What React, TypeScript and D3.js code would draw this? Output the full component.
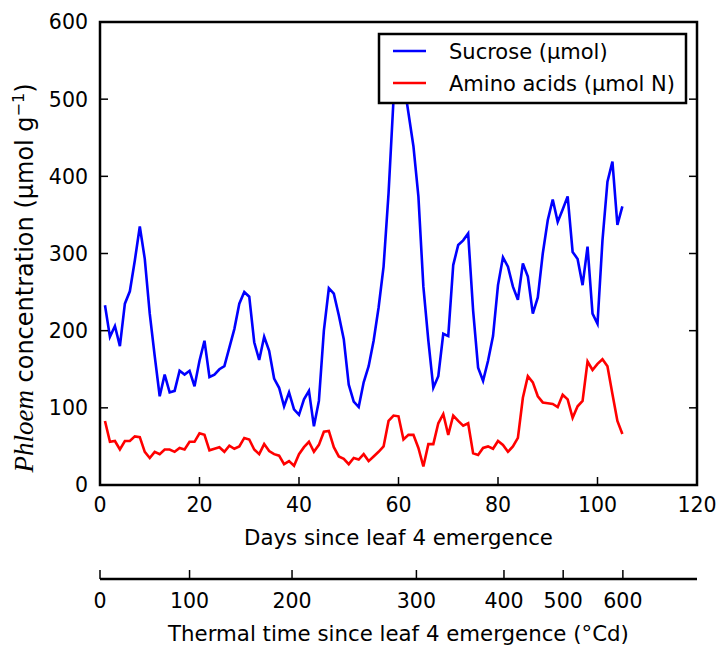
import React, { useRef, useEffect } from 'react'
import * as d3 from 'd3'

// days since leaf 4 emergence
const days = [
  1, 2, 3, 4, 5, 6, 7, 8, 9, 10, 11, 12, 13, 14, 15, 16, 17, 18, 19, 20,
  21, 22, 23, 24, 25, 26, 27, 28, 29, 30, 31, 32, 33, 34, 35, 36, 37, 38, 39, 40,
  41, 42, 43, 44, 45, 46, 47, 48, 49, 50, 51, 52, 53, 54, 55, 56, 57, 58, 59, 60,
  61, 62, 63, 64, 65, 66, 67, 68, 69, 70, 71, 72, 73, 74, 75, 76, 77, 78, 79, 80,
  81, 82, 83, 84, 85, 86, 87, 88, 89, 90, 91, 92, 93, 94, 95, 96, 97, 98, 99, 100,
  101, 102, 103, 104, 105,
]

const sucrose = [
  233, 192, 206, 180, 235, 251, 291, 335, 293, 222, 167, 115, 143, 120, 122, 148, 143, 148, 128, 161,
  187, 140, 143, 150, 154, 178, 202, 235, 250, 244, 185, 162, 192, 174, 138, 126, 102, 120, 98, 91,
  111, 122, 76, 109, 200, 255, 248, 220, 189, 130, 108, 101, 133, 154, 187, 230, 283, 378, 500, 530,
  525, 482, 439, 374, 257, 187, 126, 141, 196, 193, 285, 311, 317, 326, 226, 152, 135, 161, 193, 259,
  295, 283, 257, 240, 287, 270, 222, 243, 300, 343, 370, 341, 357, 374, 302, 293, 259, 309, 222, 209,
  317, 393, 419, 337, 361,
]

const aminoAcids = [
  83, 56, 57, 46, 57, 57, 63, 62, 43, 35, 43, 40, 46, 46, 43, 48, 46, 56, 56, 67,
  65, 45, 47, 49, 43, 51, 47, 50, 61, 59, 46, 40, 53, 44, 40, 38, 27, 31, 25, 40,
  49, 56, 43, 52, 69, 70, 49, 37, 34, 27, 35, 33, 40, 31, 37, 43, 50, 83, 90, 89,
  59, 65, 65, 48, 24, 53, 53, 80, 92, 65, 90, 83, 77, 80, 41, 39, 48, 50, 47, 57,
  52, 43, 50, 61, 113, 141, 133, 115, 107, 106, 105, 101, 117, 111, 87, 102, 109, 160, 149, 157,
  163, 154, 118, 83, 66,
]

const dayTicks = [0, 20, 40, 60, 80, 100, 120]
const concTicks = [0, 100, 200, 300, 400, 500, 600]

// thermal time axis: labels and the day each one sits at
const thermalLabels = [0, 100, 200, 300, 400, 500, 600]
const thermalAtDay = [0, 18, 38.6, 63.6, 81.2, 93.1, 105.1]

const seriesNames = ['Sucrose (µmol)', 'Amino acids (µmol N)']
const seriesColors = ['#0000ff', '#ff0000']

const FONT = '"DejaVu Sans", sans-serif'

const Chart = () => {
  const svgRef = useRef<SVGSVGElement>(null)

  useEffect(() => {
    const svg = d3.select(svgRef.current)
    svg.selectAll('*').remove()

    const width = 718
    const height = 648
    const left = 100
    const right = 697
    const top = 22
    const bottom = 485
    const tickLen = 8

    svg.attr('width', width).attr('height', height)

    const x = d3.scaleLinear().domain([0, 120]).range([left, right])
    const y = d3.scaleLinear().domain([0, 600]).range([bottom, top])

    // data lines
    const line = d3
      .line<number>()
      .x((d, i) => x(days[i]))
      .y(d => y(d))

    ;[sucrose, aminoAcids].forEach((s, k) => {
      svg
        .append('path')
        .datum(s)
        .attr('d', line)
        .attr('fill', 'none')
        .attr('stroke', seriesColors[k])
        .attr('stroke-width', 2.6)
    })

    // ticks (inward, left/right/bottom)
    const g = svg.append('g').attr('stroke', '#000').attr('stroke-width', 1.5)
    concTicks.forEach(t => {
      g.append('line').attr('x1', left).attr('x2', left + tickLen).attr('y1', y(t)).attr('y2', y(t))
      g.append('line').attr('x1', right).attr('x2', right - tickLen).attr('y1', y(t)).attr('y2', y(t))
    })
    dayTicks.forEach(t => {
      g.append('line').attr('x1', x(t)).attr('x2', x(t)).attr('y1', bottom).attr('y2', bottom - tickLen)
    })

    // frame
    svg
      .append('rect')
      .attr('x', left)
      .attr('y', top)
      .attr('width', right - left)
      .attr('height', bottom - top)
      .attr('fill', 'none')
      .attr('stroke', '#000')
      .attr('stroke-width', 2.5)

    // tick labels
    const labels = svg.append('g').attr('font-family', FONT).attr('font-size', 20.5).attr('fill', '#000')
    concTicks.forEach(t => {
      labels
        .append('text')
        .attr('x', left - 12)
        .attr('y', y(t))
        .attr('dy', '0.36em')
        .attr('text-anchor', 'end')
        .text(t)
    })
    dayTicks.forEach(t => {
      labels.append('text').attr('x', x(t)).attr('y', 512).attr('text-anchor', 'middle').text(t)
    })

    // day axis title
    labels
      .append('text')
      .attr('x', (left + right) / 2)
      .attr('y', 545)
      .attr('text-anchor', 'middle')
      .attr('font-size', 21.3)
      .text('Days since leaf 4 emergence')

    // second axis: thermal time
    const thermalY = 579
    svg
      .append('line')
      .attr('x1', left)
      .attr('x2', right)
      .attr('y1', thermalY)
      .attr('y2', thermalY)
      .attr('stroke', '#000')
      .attr('stroke-width', 2.5)
    thermalLabels.forEach((t, i) => {
      const px = x(thermalAtDay[i])
      svg
        .append('line')
        .attr('x1', px)
        .attr('x2', px)
        .attr('y1', thermalY)
        .attr('y2', thermalY - 9)
        .attr('stroke', '#000')
        .attr('stroke-width', 1.5)
      labels.append('text').attr('x', px).attr('y', 608).attr('text-anchor', 'middle').text(t)
    })
    labels
      .append('text')
      .attr('x', (left + right) / 2)
      .attr('y', 641)
      .attr('text-anchor', 'middle')
      .attr('font-size', 21.3)
      .text('Thermal time since leaf 4 emergence (°Cd)')

    // y axis title
    const yt = labels
      .append('text')
      .attr('transform', 'translate(33, 278) rotate(-90)')
      .attr('text-anchor', 'middle')
      .attr('font-size', 24)
    yt.append('tspan')
      .attr('font-family', '"Liberation Serif", serif')
      .attr('font-style', 'italic')
      .attr('font-size', 27)
      .text('Phloem')
    yt.append('tspan').text(' concentration (µmol g')
    yt.append('tspan').attr('font-size', 16).attr('baseline-shift', '55%').text('−1')
    yt.append('tspan').text(')')

    // legend
    const lg = svg.append('g')
    lg.append('rect')
      .attr('x', 379)
      .attr('y', 34)
      .attr('width', 307)
      .attr('height', 69)
      .attr('fill', '#fff')
      .attr('stroke', '#000')
      .attr('stroke-width', 2.5)
    seriesNames.forEach((name, i) => {
      const ly = 51 + i * 32
      lg.append('line')
        .attr('x1', 393)
        .attr('x2', 426)
        .attr('y1', ly)
        .attr('y2', ly)
        .attr('stroke', seriesColors[i])
        .attr('stroke-width', 2.6)
      lg.append('text')
        .attr('x', 449)
        .attr('y', ly)
        .attr('dy', '0.36em')
        .attr('font-family', FONT)
        .attr('font-size', 21)
        .text(name)
    })
  }, [])

  return <svg ref={svgRef} style={{ position: 'absolute', left: 0, top: 0 }}></svg>
}

export default function App() {
  return <Chart />
}
